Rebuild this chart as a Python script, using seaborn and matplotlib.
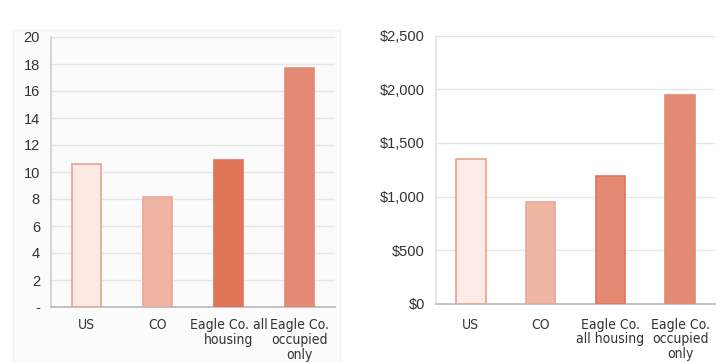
import matplotlib
matplotlib.use("Agg")
import matplotlib.pyplot as plt
import seaborn as sns
import pandas as pd

left_categories = ["US", "CO", "Eagle Co. all\nhousing", "Eagle Co.\noccupied\nonly"]
right_categories = ["US", "CO", "Eagle Co.\nall housing", "Eagle Co.\noccupied\nonly"]
left_values = [10.56, 8.18, 10.9, 17.7]
right_values = [1350, 949, 1194, 1947]
left_ticks = [0, 2, 4, 6, 8, 10, 12, 14, 16, 18, 20]
left_ticklabels = ["-", "2", "4", "6", "8", "10", "12", "14", "16", "18", "20"]
right_ticks = [0, 500, 1000, 1500, 2000, 2500]
right_ticklabels = ["$0", "$500", "$1,000", "$1,500", "$2,000", "$2,500"]

left_colors = ["#FCE9E4", "#EFB4A2", "#E07457", "#E48A74"]
right_colors = ["#FCEBE6", "#EFB6A4", "#E48A74", "#E48A74"]
edge_colors = ["#E9A08E", "#EAA896", "#E07457", "#E48A74"]

sns.set_theme(style="white")
plt.rcParams['font.family'] = ['Liberation Sans', 'DejaVu Sans']

fig = plt.figure(figsize=(7.19, 3.62), dpi=100)
fig.patch.set_facecolor("white")
bg = fig.add_axes([13/719, 0, (340-13)/719, 1 - 30/362], zorder=-5)
bg.set_facecolor("#FBFBFB")
bg.set_xticks([]); bg.set_yticks([])
for s in bg.spines.values():
    s.set_color("#F0F0F0"); s.set_linewidth(0.8)

axL = fig.add_axes([51/719, 55/362, 284/719, 270/362])
axR = fig.add_axes([436/719, 58.3/362, 279/719, 268/362])

def draw(ax, cats, vals, cols, ticks, ticklabels, ymax, right=False):
    df = pd.DataFrame({"cat": cats, "val": vals})
    sns.barplot(data=df, x="cat", y="val", hue="cat", palette=cols, legend=False,
                width=0.42, ax=ax, saturation=1, zorder=3)
    for p, ec in zip(ax.patches, edge_colors):
        p.set_edgecolor(ec)
        p.set_linewidth(1.2)
    ax.set_xlim(-0.5, 3.5)
    ax.set_ylim(0, ymax)
    ax.set_yticks(ticks)
    ax.set_yticklabels(ticklabels, fontsize=10.5, color="#333333")
    ax.set_xticks(range(4))
    ax.set_xticklabels(cats, fontsize=10, color="#333333",
                       family='DejaVu Sans', stretch='condensed',
                       linespacing=1.08)
    ax.set_xlabel("")
    ax.set_ylabel("")
    ax.tick_params(axis="both", length=0)
    ax.tick_params(axis="y", pad=8)
    ax.tick_params(axis="x", pad=8 if not right else 10)
    ax.grid(axis="y", color="#E6E6E6", lw=1, zorder=0)
    ax.set_axisbelow(True)
    ax.set_facecolor("none")
    for s in ["top", "right"]:
        ax.spines[s].set_visible(False)
    ax.spines["bottom"].set_color("#BBBBBB")
    ax.spines["left"].set_color("#D0D0D0" if not right else "#E4E4E4")

draw(axL, left_categories, left_values, left_colors, left_ticks, left_ticklabels, 20)
draw(axR, right_categories, right_values, right_colors, right_ticks, right_ticklabels, 2500, right=True)

fig.savefig("out.png", dpi=100, facecolor="white")
